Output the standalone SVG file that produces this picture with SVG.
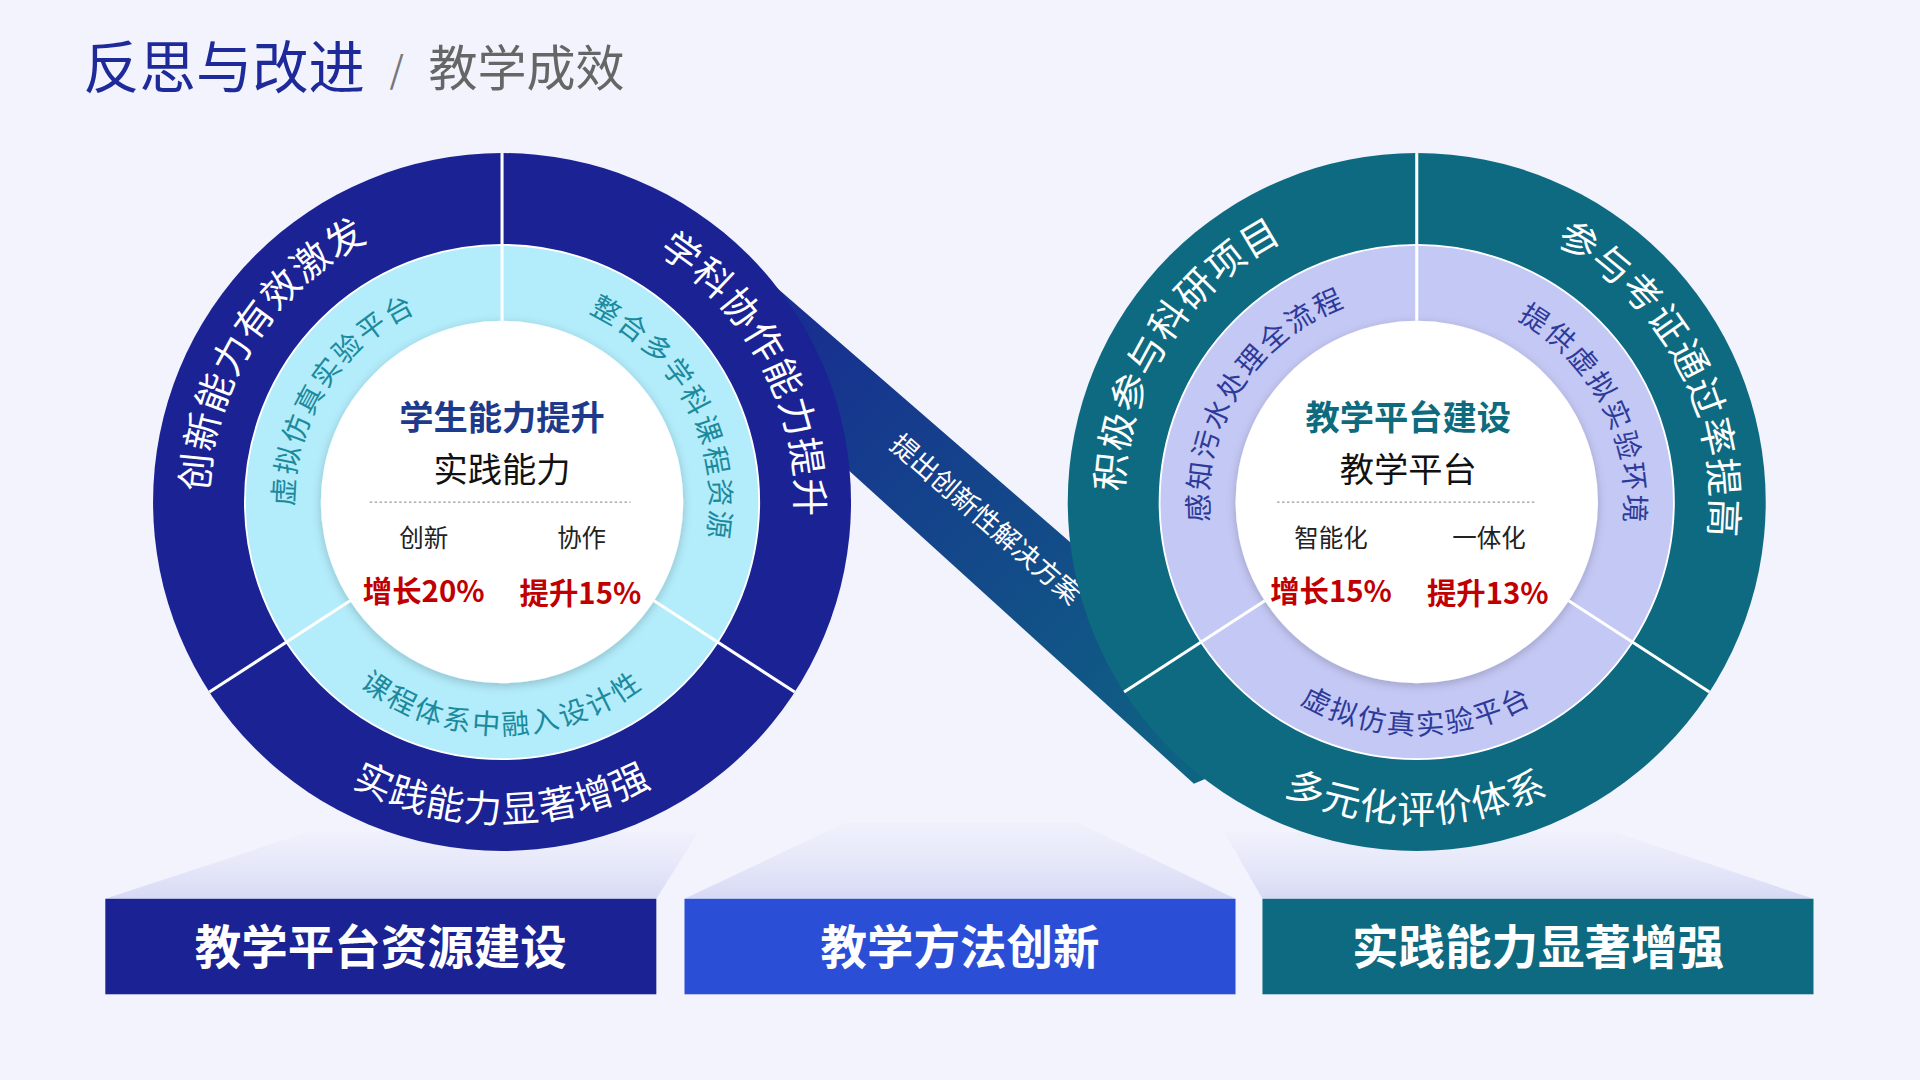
<svg xmlns="http://www.w3.org/2000/svg" width="1920" height="1080" viewBox="0 0 1920 1080">
<defs>
<linearGradient id="band" x1="0" y1="0" x2="1" y2="1"><stop offset="0" stop-color="#1a2294"/><stop offset="1" stop-color="#0d6a80"/></linearGradient>
<linearGradient id="sh" x1="0" y1="0" x2="0" y2="1"><stop offset="0" stop-color="#e4e6fa" stop-opacity="0.2"/><stop offset="1" stop-color="#d6d9f4"/></linearGradient>
<filter id="ds" x="-20%" y="-20%" width="140%" height="140%"><feDropShadow dx="0" dy="2" stdDeviation="4" flood-color="#000" flood-opacity="0.2"/></filter>
<path id="lo1" d="M184.5,492.1 A240,240 0 0 1 389.1,170.9"/>
<path id="lo2" d="M451.7,173.6 A240,240 0 0 1 627.5,511.4"/>
<path id="lo3" d="M183.1,541 A262,262 0 0 0 636.9,541"/>
<path id="lm1" d="M250.2,468.1 A170,170 0 0 1 395.2,240.6"/>
<path id="lm2" d="M439.5,242.6 A170,170 0 0 1 564.1,481.8"/>
<path id="lm3" d="M245.5,505 A190,190 0 0 0 574.5,505"/>
<path id="ro1" d="M931.5,492.1 A240,240 0 0 1 1136.1,170.9"/>
<path id="ro2" d="M1198.7,173.6 A240,240 0 0 1 1374.5,511.4"/>
<path id="ro3" d="M930.1,541 A262,262 0 0 0 1383.9,541"/>
<path id="rm1" d="M997.2,468.1 A170,170 0 0 1 1142.2,240.6"/>
<path id="rm2" d="M1186.5,242.6 A170,170 0 0 1 1311.1,481.8"/>
<path id="rm3" d="M992.5,505 A190,190 0 0 0 1321.5,505"/>
</defs>
<style>
text{font-family:"Noto Sans CJK SC","Noto Sans",sans-serif}
.ot{font-size:31px;fill:#fff;letter-spacing:1px}
.mtl{font-size:23px;fill:#1b8a9c;letter-spacing:2px}
.mtr{font-size:23px;fill:#2d3a9a;letter-spacing:2px}
.div{stroke:#fff;stroke-width:2.5}
.sm{font-size:20px;fill:#222;text-anchor:middle}
.red{font-size:24px;font-weight:bold;fill:#c00000;text-anchor:middle}
.bx{font-size:38px;font-weight:bold;fill:#fff;text-anchor:middle}
</style>
<rect width="1920" height="1080" fill="#f2f3fc"/>
<g transform="scale(1.2245)">
<g id="title">
<text x="68" y="72" font-size="46" fill="#1e2a9a">反思与改进</text>
<text x="318" y="68" font-size="30" fill="#777">/</text>
<text x="350" y="70" font-size="40" fill="#666">教学成效</text>
</g>
<g id="shadows">
<polygon points="250,680 570,680 536,734 86,734" fill="url(#sh)"/>
<polygon points="690,672 880,672 1009,734 559,734" fill="url(#sh)"/>
<polygon points="1000,680 1320,680 1481,734 1031,734" fill="url(#sh)"/>
</g>
<g id="connectors">
<polygon points="565,175 1060,604 975,640 650,345" fill="url(#band)"/>
<text transform="translate(800,430) rotate(41)" text-anchor="middle" font-size="22" fill="#fff">提出创新性解决方案</text>
</g>
<g id="left">
<circle cx="410" cy="410" r="285" fill="#1a2294"/>
<circle cx="410" cy="410" r="210" fill="#b3ecfb"/>
<circle cx="410" cy="410" r="148" fill="#fff" filter="url(#ds)"/>
<line class="div" x1="410" y1="262" x2="410" y2="125"/>
<line class="div" x1="285.9" y1="490.6" x2="171" y2="565.2"/>
<line class="div" x1="534.1" y1="490.6" x2="649" y2="565.2"/>
<circle cx="410" cy="410" r="210" fill="none" stroke="#fff" stroke-width="1.5"/>
<text class="ot"><textPath href="#lo1" startOffset="50%" text-anchor="middle">创新能力有效激发</textPath></text>
<text class="ot"><textPath href="#lo2" startOffset="50%" text-anchor="middle">学科协作能力提升</textPath></text>
<text class="ot"><textPath href="#lo3" startOffset="50%" text-anchor="middle">实践能力显著增强</textPath></text>
<text class="mtl"><textPath href="#lm1" startOffset="50%" text-anchor="middle">虚拟仿真实验平台</textPath></text>
<text class="mtl"><textPath href="#lm2" startOffset="50%" text-anchor="middle">整合多学科课程资源</textPath></text>
<text class="mtl"><textPath href="#lm3" startOffset="50%" text-anchor="middle">课程体系中融入设计性</textPath></text>
<text x="410" y="351" text-anchor="middle" font-size="28" font-weight="bold" fill="#1e3a8a">学生能力提升</text>
<text x="410" y="394" text-anchor="middle" font-size="28" fill="#111">实践能力</text>
<line x1="302" y1="410" x2="515" y2="410" stroke="#999" stroke-dasharray="2,2"/>
<text class="sm" x="346" y="447">创新</text>
<text class="sm" x="475" y="447">协作</text>
<text class="red" x="346" y="492">增长20%</text>
<text class="red" x="474" y="493">提升15%</text>
</g>
<g id="right">
<circle cx="1157" cy="410" r="285" fill="#0d6a80"/>
<circle cx="1157" cy="410" r="210" fill="#c4c8f4"/>
<circle cx="1157" cy="410" r="148" fill="#fff" filter="url(#ds)"/>
<line class="div" x1="1157" y1="262" x2="1157" y2="125"/>
<line class="div" x1="1032.9" y1="490.6" x2="918" y2="565.2"/>
<line class="div" x1="1281.1" y1="490.6" x2="1396" y2="565.2"/>
<circle cx="1157" cy="410" r="210" fill="none" stroke="#fff" stroke-width="1.5"/>
<text class="ot"><textPath href="#ro1" startOffset="50%" text-anchor="middle">积极参与科研项目</textPath></text>
<text class="ot"><textPath href="#ro2" startOffset="50%" text-anchor="middle">参与考证通过率提高</textPath></text>
<text class="ot"><textPath href="#ro3" startOffset="50%" text-anchor="middle">多元化评价体系</textPath></text>
<text class="mtr"><textPath href="#rm1" startOffset="50%" text-anchor="middle">感知污水处理全流程</textPath></text>
<text class="mtr"><textPath href="#rm2" startOffset="50%" text-anchor="middle">提供虚拟实验环境</textPath></text>
<text class="mtr"><textPath href="#rm3" startOffset="50%" text-anchor="middle">虚拟仿真实验平台</textPath></text>
<text x="1150" y="351" text-anchor="middle" font-size="28" font-weight="bold" fill="#0e6b7e">教学平台建设</text>
<text x="1150" y="394" text-anchor="middle" font-size="28" fill="#111">教学平台</text>
<line x1="1043" y1="410" x2="1255" y2="410" stroke="#999" stroke-dasharray="2,2"/>
<text class="sm" x="1087" y="447">智能化</text>
<text class="sm" x="1216" y="447">一体化</text>
<text class="red" x="1087" y="492">增长15%</text>
<text class="red" x="1215" y="493">提升13%</text>
</g>
<g id="box1"><rect x="86" y="734" width="450" height="78" fill="#1a2294"/><text class="bx" x="311" y="787">教学平台资源建设</text></g>
<g id="box2"><rect x="559" y="734" width="450" height="78" fill="#2a4fd6"/><text class="bx" x="784" y="787">教学方法创新</text></g>
<g id="box3"><rect x="1031" y="734" width="450" height="78" fill="#0d6a80"/><text class="bx" x="1256" y="787">实践能力显著增强</text></g>
</g>
</svg>
